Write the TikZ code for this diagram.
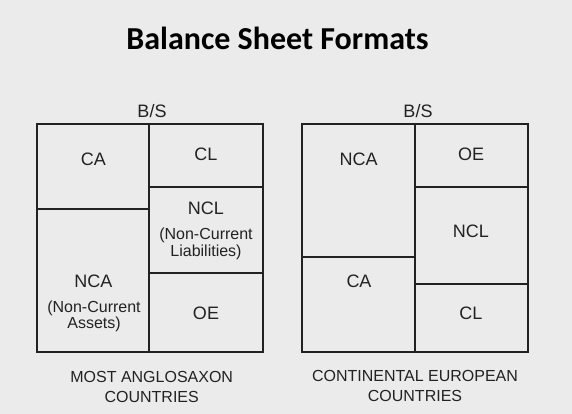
\documentclass[tikz,border=0pt]{standalone}
\usepackage{fontspec}
\setmainfont{Liberation Sans}
\newfontfamily\titlefont{Carlito}

\definecolor{bgray}{RGB}{235,235,235}
\definecolor{ink}{RGB}{34,34,34}

\tikzstyle{sheet}=[draw=ink, line width=1.3pt]
\tikzstyle{part}=[inner sep=0pt, text=ink, font=\fontsize{13.5}{14}\selectfont]
\tikzstyle{note}=[inner sep=0pt, text=ink, align=center, font=\fontsize{12}{12.5}\selectfont]
\tikzstyle{caption}=[inner sep=0pt, text=ink, align=center, font=\fontsize{12}{15}\selectfont]

\begin{document}
\begin{tikzpicture}[x=0.75pt, y=-0.75pt]
      \fill[bgray] (0,0) rectangle (572,414);
      \useasboundingbox (0,0) rectangle (572,414);

      \node[font=\titlefont\bfseries\fontsize{24}{27}\selectfont, inner sep=0pt] (title) at (277.5, 38) {Balance Sheet Formats};

      % anglo-saxon layout
      \draw[sheet] (36.7,123.7) rectangle (262.7,352.3);
      \draw[sheet] (149.3,123.7) -- (149.3,352.3);
      \draw[sheet] (36.7,209.3) -- (149.3,209.3);
      \draw[sheet] (149.3,187.3) -- (262.7,187.3);
      \draw[sheet] (149.3,273) -- (262.7,273);

      \node[part] (bs1) at (152, 111) {B/S};
      \node[part] (ca1) at (93.5, 159) {CA};
      \node[part] (cl1) at (206, 154.5) {CL};
      \node[part] (ncl1) at (206, 208.5) {NCL};
      \node[note] (ncl1x) at (206, 244) {(Non-Current\\Liabilities)};
      \node[part] (nca1) at (93.5, 281) {NCA};
      \node[note] (nca1x) at (94, 316.5) {(Non-Current\\Assets)};
      \node[part] (oe1) at (206, 313) {OE};
      \node[caption] (as) at (151.7, 387) {MOST ANGLOSAXON\\COUNTRIES};

      % continental layout
      \draw[sheet] (302.3,123.7) rectangle (527.7,352.3);
      \draw[sheet] (414.7,123.7) -- (414.7,352.3);
      \draw[sheet] (302.3,257.3) -- (414.7,257.3);
      \draw[sheet] (414.7,187.3) -- (527.7,187.3);
      \draw[sheet] (414.7,283.7) -- (527.7,283.7);

      \node[part] (bs2) at (418, 111) {B/S};
      \node[part] (nca2) at (358.7, 159) {NCA};
      \node[part] (oe2) at (471, 154.5) {OE};
      \node[part] (ncl2) at (471, 231) {NCL};
      \node[part] (ca2) at (359, 281) {CA};
      \node[part] (cl2) at (471, 313) {CL};
      \node[caption] (ce) at (415, 386) {CONTINENTAL EUROPEAN\\COUNTRIES};
\end{tikzpicture}
\end{document}
